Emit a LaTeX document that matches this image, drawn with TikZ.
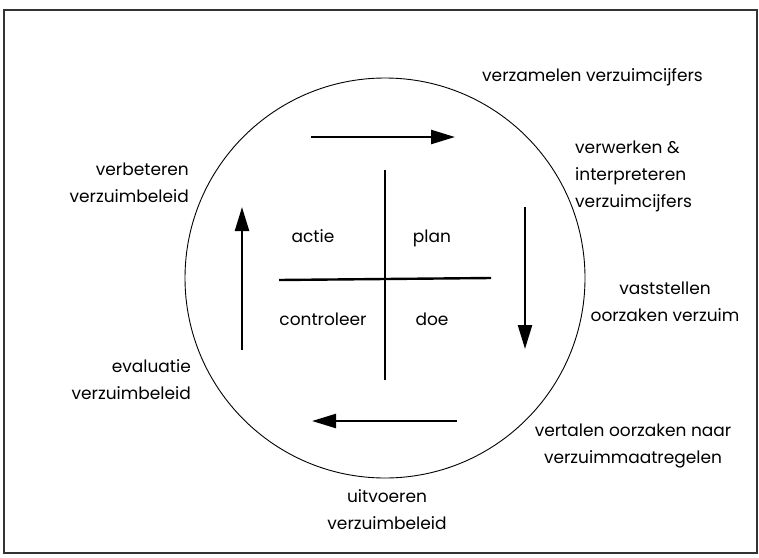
\documentclass[tikz,border=0pt]{standalone}
\usepackage{fontspec}
\setmainfont{Poppins}
\usetikzlibrary{arrows.meta}
\begin{document}
\begin{tikzpicture}[x=1pt,y=-1pt,
  lbl/.style={inner sep=0pt,font=\fontsize{17pt}{27pt}\selectfont},
  bigarrow/.style={line width=2.4pt,-{Triangle[length=24pt,width=14pt]}},
  crossline/.style={line width=2.4pt},
  frame/.style={line width=1.6pt,draw=black!80}]
\useasboundingbox (0,0) rectangle (759,557);
\draw[frame] (4,10) rectangle (757,553);
\node[draw,circle,line width=0.9pt,minimum size=400pt,inner sep=0pt] (c) at (385,278) {};
% cross
\coordinate (vt) at (385,170); \coordinate (vb) at (385,380);
\coordinate (hl) at (279,280); \coordinate (hr) at (491,278);
\draw[crossline] (vt) -- (vb);
\draw[crossline] (hl) -- (hr);
% arrows
\coordinate (a1s) at (311,137); \coordinate (a1e) at (455,137);
\coordinate (a2s) at (525,207); \coordinate (a2e) at (525,349);
\coordinate (a3s) at (457,421); \coordinate (a3e) at (312,421);
\coordinate (a4s) at (242,350); \coordinate (a4e) at (242,207);
\draw[bigarrow] (a1s) -- (a1e);
\draw[bigarrow] (a2s) -- (a2e);
\draw[bigarrow] (a3s) -- (a3e);
\draw[bigarrow] (a4s) -- (a4e);
% quadrant labels
\node[lbl,anchor=base] (actie) at (313,242) {actie};
\node[lbl,anchor=base] (plan) at (432,242) {plan};
\node[lbl,anchor=base] (contr) at (323,325) {controleer};
\node[lbl,anchor=base] (doe) at (432,325) {doe};
% outer labels (base anchor = baseline of last line)
\node[lbl,anchor=base west] (verz) at (482,81) {verzamelen verzuimcijfers};
\node[lbl,anchor=base west,align=left] (verw) at (575,207) {verwerken \&\\interpreteren\\verzuimcijfers};
\node[lbl,anchor=base,align=center] (vast) at (665,321) {vaststellen\\oorzaken verzuim};
\node[lbl,anchor=base,align=center] (vert) at (633,463) {vertalen oorzaken naar\\verzuimmaatregelen};
\node[lbl,anchor=base,align=center] (uitv) at (387,529) {uitvoeren\\verzuimbeleid};
\node[lbl,anchor=base east,align=right] (eval) at (191,399) {evaluatie\\verzuimbeleid};
\node[lbl,anchor=base east,align=right] (verb) at (189,202) {verbeteren\\verzuimbeleid};
\end{tikzpicture}
\end{document}
